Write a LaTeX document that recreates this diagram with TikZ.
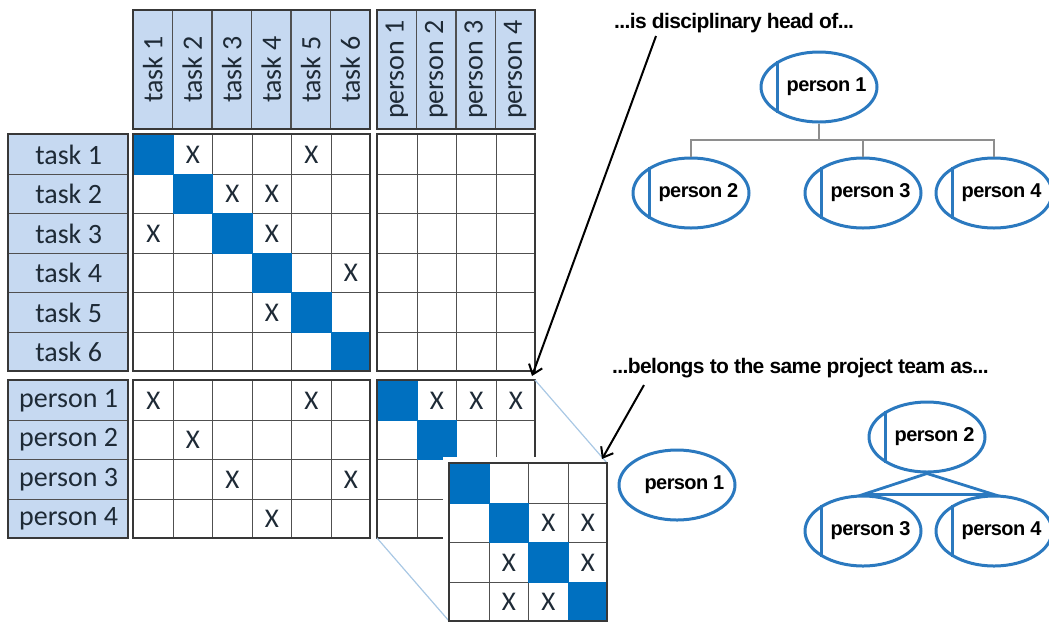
\documentclass[tikz,border=0pt]{standalone}
\usepackage{fontspec}
\setmainfont{Carlito}
\newfontfamily\capfont[LetterSpace=-3]{Liberation Sans}
\usetikzlibrary{shapes.geometric,arrows.meta}

\definecolor{headfill}{HTML}{C6D9F1}
\definecolor{diagfill}{HTML}{0070C0}
\definecolor{ovalblue}{HTML}{2B79BF}
\definecolor{inktext}{HTML}{1E2A36}
\definecolor{gridline}{HTML}{505050}
\definecolor{frameline}{HTML}{383838}
\definecolor{orggray}{HTML}{8E8E8E}
\definecolor{zoomedge}{HTML}{A9C8E4}

\tikzset{
  gcell/.style={draw=gridline, line width=1.3pt, fill=white, minimum size=39.5pt, inner sep=0pt, anchor=north west},
  hcell/.style={draw=gridline, line width=1.3pt, fill=headfill, inner sep=0pt, text=inktext, font=\fontsize{28}{30}\selectfont},
  blockframe/.style={draw=frameline, line width=2.4pt},
  xmark/.style={text=inktext, font=\fontsize{27}{29}\selectfont, inner sep=0pt},
  orgoval/.style={ellipse, draw=ovalblue, fill=white, line width=3pt, minimum width=116pt, minimum height=70pt,
    inner xsep=-30pt, inner ysep=0pt,
    font=\capfont\bfseries\fontsize{20}{22}\selectfont, execute at begin node={\hspace*{15pt}}},
  chordline/.style={draw=ovalblue, line width=2.6pt},
  orgline/.style={draw=orggray, line width=2.8pt},
  teamline/.style={draw=ovalblue, line width=2.8pt},
  pointer/.style={-{Straight Barb[length=9pt, width=14pt]}, line width=2pt, black},
  caplabel/.style={font=\capfont\bfseries\fontsize{21}{23}\selectfont, inner sep=0pt, anchor=west},
  zoomline/.style={draw=zoomedge, line width=1.2pt}
}

\begin{document}
\begin{tikzpicture}[x=1pt, y=-1pt]
\useasboundingbox (0,0) rectangle (1049,622);

% column headers
\foreach \i in {1,...,6}
  \node[hcell, rotate=90, minimum width=119pt, minimum height=39.5pt] (ct-\i) at ({133+(\i-0.5)*39.5},69.5) {task \i};
\foreach \i in {1,...,4}
  \node[hcell, rotate=90, minimum width=119pt, minimum height=39.5pt] (cp-\i) at ({377+(\i-0.5)*39.5},69.5) {person \i};
\draw[blockframe] (133,10) rectangle (370,129);
\draw[blockframe] (377,10) rectangle (535,129);

% row headers
\foreach \i in {1,...,6}
  \node[hcell, minimum width=120pt, minimum height=39.5pt, anchor=north west] (rt-\i) at (8,{134+(\i-1)*39.5}) {task \i};
\foreach \i in {1,...,4}
  \node[hcell, minimum width=120pt, minimum height=39.5pt, anchor=north west] (rp-\i) at (8,{380+(\i-1)*39.5}) {person \i};
\draw[blockframe] (8,134) rectangle (128,371);
\draw[blockframe] (8,380) rectangle (128,538);

% task x task
\foreach \i in {1,...,6}
  \foreach \j in {1,...,6}
    \node[gcell] (tt-\i-\j) at ({133+(\j-1)*39.5},{134+(\i-1)*39.5}) {};
\foreach \i in {1,...,6}
  \fill[diagfill] (tt-\i-\i.north west) rectangle (tt-\i-\i.south east);
\foreach \i/\j in {1/2,1/5,2/3,2/4,3/1,3/4,4/6,5/4}
  \node[xmark] (xtt-\i-\j) at (tt-\i-\j) {X};
\draw[blockframe] (133,134) rectangle (370,371);

% task x person
\foreach \i in {1,...,6}
  \foreach \j in {1,...,4}
    \node[gcell] (tp-\i-\j) at ({377+(\j-1)*39.5},{134+(\i-1)*39.5}) {};
\draw[blockframe] (377,134) rectangle (535,371);

% person x task
\foreach \i in {1,...,4}
  \foreach \j in {1,...,6}
    \node[gcell] (pt-\i-\j) at ({133+(\j-1)*39.5},{380+(\i-1)*39.5}) {};
\foreach \i/\j in {1/1,1/5,2/2,3/3,3/6,4/4}
  \node[xmark] (xpt-\i-\j) at (pt-\i-\j) {X};
\draw[blockframe] (133,380) rectangle (370,538);

% person x person
\foreach \i in {1,...,4}
  \foreach \j in {1,...,4}
    \node[gcell] (pp-\i-\j) at ({377+(\j-1)*39.5},{380+(\i-1)*39.5}) {};
\foreach \i in {1,...,4}
  \fill[diagfill] (pp-\i-\i.north west) rectangle (pp-\i-\i.south east);
\foreach \j in {2,3,4}
  \node[xmark] (xpp-1-\j) at (pp-1-\j) {X};
\draw[blockframe] (377,380) rectangle (535,538);

% second relation, laid over the first
\fill[white] (443,457) rectangle (613,628);
\draw[zoomline] (535,380) -- (607,463);
\draw[zoomline] (377,538) -- (449,621);
\foreach \i in {1,...,4}
  \foreach \j in {1,...,4}
    \node[gcell] (in-\i-\j) at ({449+(\j-1)*39.5},{463+(\i-1)*39.5}) {};
\foreach \i in {1,...,4}
  \fill[diagfill] (in-\i-\i.north west) rectangle (in-\i-\i.south east);
\foreach \i/\j in {2/3,2/4,3/2,3/4,4/2,4/3}
  \node[xmark] (xin-\i-\j) at (in-\i-\j) {X};
\draw[blockframe] (449,463) rectangle (607,621);

% disciplinary hierarchy
\node[caplabel] (headlbl) at (614,23) {...is disciplinary head of...};
\coordinate (bus) at (819,140);
\node[orgoval] (dh1) at (819,87) {person 1};
\node[orgoval] (dh2) at (691,193) {person 2};
\node[orgoval] (dh3) at (863,193) {person 3};
\node[orgoval] (dh4) at (994,193) {person 4};
\draw[orgline] (dh1.south) -- (bus);
\draw[orgline] (dh2.north) |- (bus) -| (dh4.north);
\draw[orgline] (dh3.north) -- (dh3.north |- bus);

% project teams
\node[caplabel] (teamlbl) at (612,368) {...belongs to the same project team as...};
\node[orgoval] (pt1) at (677,485) {person 1};
\node[orgoval] (pt2) at (927,437) {person 2};
\node[orgoval] (pt3) at (863,531) {person 3};
\node[orgoval] (pt4) at (994,531) {person 4};
\draw[teamline] (pt2.south) -- (pt3.north) -- (pt4.north) -- cycle;

\foreach \n in {dh1,dh2,dh3,dh4,pt2,pt3,pt4}
  \draw[chordline] (\n.148) -- (\n.212);

% pointers
\coordinate (tailA) at (656,36);
\coordinate (tipA) at (532,376);
\coordinate (tailB) at (644,385);
\coordinate (tipB) at (602,459);
\draw[pointer] (tailA) -- (tipA);
\draw[pointer] (tailB) -- (tipB);
\end{tikzpicture}
\end{document}
